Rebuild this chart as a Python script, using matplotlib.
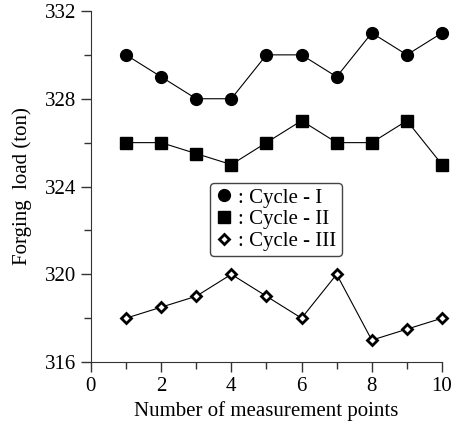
import matplotlib
matplotlib.use("Agg")
from matplotlib import pyplot as plt
from matplotlib.ticker import MultipleLocator

plt.rcParams['font.family'] = ['Liberation Serif', 'DejaVu Serif']

# Data
points = [1, 2, 3, 4, 5, 6, 7, 8, 9, 10]
cycle_1 = [330, 329, 328, 328, 330, 330, 329, 331, 330, 331]
cycle_2 = [326, 326, 325.5, 325, 326, 327, 326, 326, 327, 325]
cycle_3 = [318, 318.5, 319, 320, 319, 318, 320, 317, 317.5, 318]

fig = plt.figure(figsize=(4.59, 4.22), dpi=100)
ax = fig.add_axes([0.198, 0.142, 0.765, 0.832])

ax.plot(points, cycle_1, color='black', lw=0.8, marker='o', ms=8.5,
        label=': Cycle - I', clip_on=False)
ax.plot(points, cycle_2, color='black', lw=0.8, marker='s', ms=8.5,
        label=': Cycle - II', clip_on=False)
ax.plot(points, cycle_3, color='black', lw=0.8, marker='D', ms=5.5,
        mfc='white', mew=2, label=': Cycle - III', clip_on=False)

ax.set_xlim(0, 10)
ax.set_ylim(316, 332)
ax.xaxis.set_major_locator(MultipleLocator(2))
ax.xaxis.set_minor_locator(MultipleLocator(1))
ax.yaxis.set_major_locator(MultipleLocator(4))
ax.yaxis.set_minor_locator(MultipleLocator(2))
ax.tick_params(which='major', direction='out', length=7, width=1,
               labelsize=15, color='#333333')
ax.tick_params(which='minor', direction='out', length=5, width=1,
               color='#333333')
for side in ['top', 'right']:
    ax.spines[side].set_visible(False)
for side in ['left', 'bottom']:
    ax.spines[side].set_color('#333333')

ax.set_xlabel('Number of measurement points', fontsize=15, labelpad=4)
ax.set_ylabel('Forging  load (ton)', fontsize=15, labelpad=9)

leg = ax.legend(loc='upper left', bbox_to_anchor=(0.31, 0.54),
                fontsize=15, handlelength=0.8, handletextpad=0.3,
                labelspacing=0.1, borderpad=0.25, fancybox=True,
                edgecolor='#444444', framealpha=1, numpoints=1)
leg.get_frame().set_linewidth(1)
for h in leg.legend_handles:
    h.set_linestyle('none')

fig.savefig('out.png', dpi=100)
